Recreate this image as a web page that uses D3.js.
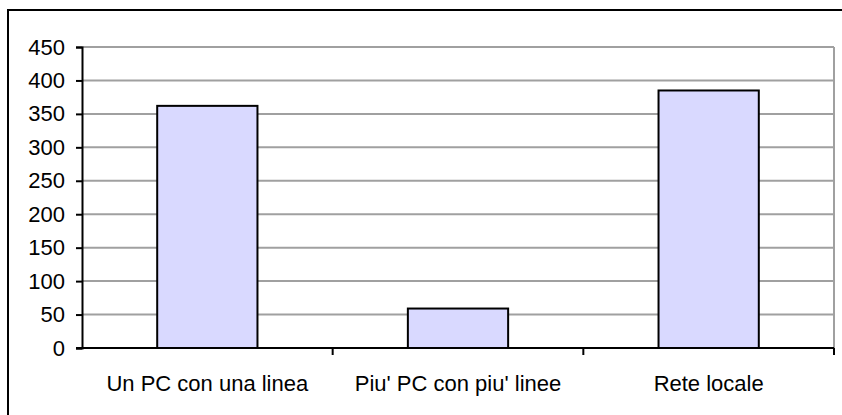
<!DOCTYPE html>
<html>
<head>
<meta charset="utf-8">
<script src="https://cdn.jsdelivr.net/npm/d3@7"></script>
<style>
  body { margin: 0; background: #fff; }
  svg { display: block; font-family: "Liberation Sans", Arial, sans-serif; }
</style>
</head>
<body>
<svg width="842" height="415"></svg>
<script>
// Chart data
const categories = ["Un PC con una linea", "Piu' PC con piu' linee", "Rete locale"];
const values = [362, 59, 385];
const yTicks = [0, 50, 100, 150, 200, 250, 300, 350, 400, 450];

const plot = { left: 82, right: 834, top: 47, bottom: 348 };
const fontSize = "22px";

const svg = d3.select("svg");

// Outer frame
svg.append("rect")
    .attr("x", 8)
    .attr("y", 10)
    .attr("width", 842)
    .attr("height", 420)
    .attr("fill", "none")
    .attr("stroke", "#000")
    .attr("stroke-width", 2);

// Scales
const x = d3.scaleBand()
    .domain(categories)
    .range([plot.left, plot.right])
    .padding(0);

const y = d3.scaleLinear()
    .domain([0, 450])
    .range([plot.bottom, plot.top]);

// Gridlines
svg.append("g")
    .selectAll("line")
    .data(yTicks.filter(d => d > 0))
    .enter()
    .append("line")
    .attr("x1", plot.left)
    .attr("x2", plot.right)
    .attr("y1", d => y(d))
    .attr("y2", d => y(d))
    .attr("stroke", "#a0a0a0")
    .attr("stroke-width", 2);

// Right border of plot area
svg.append("line")
    .attr("x1", plot.right)
    .attr("x2", plot.right)
    .attr("y1", plot.top)
    .attr("y2", plot.bottom)
    .attr("stroke", "#a0a0a0")
    .attr("stroke-width", 2);

// Bars
const barW = x.bandwidth() * 0.4;
svg.append("g")
    .selectAll("rect")
    .data(values)
    .enter()
    .append("rect")
    .attr("x", (d, i) => x(categories[i]) + (x.bandwidth() - barW) / 2)
    .attr("y", d => y(d))
    .attr("width", barW)
    .attr("height", d => y(0) - y(d))
    .attr("fill", "#d9d9ff")
    .attr("stroke", "#000")
    .attr("stroke-width", 2);

// Y axis
const yAxis = svg.append("g")
    .attr("transform", `translate(${plot.left},0)`)
    .call(d3.axisLeft(y).tickValues(yTicks).tickSize(6).tickPadding(11));
yAxis.select(".domain").attr("stroke", "#000").attr("stroke-width", 2);
yAxis.selectAll(".tick line").attr("stroke", "#000").attr("stroke-width", 2);
yAxis.selectAll(".tick text")
    .attr("fill", "#000")
    .style("font-size", fontSize)
    .style("font-family", "'Liberation Sans', Arial, sans-serif");

// X axis line
svg.append("line")
    .attr("x1", plot.left - 6)
    .attr("x2", plot.right)
    .attr("y1", y(0))
    .attr("y2", y(0))
    .attr("stroke", "#000")
    .attr("stroke-width", 2);

// X ticks at category boundaries
const bounds = categories.map(c => x(c) + x.bandwidth());
svg.append("g")
    .selectAll("line")
    .data(bounds)
    .enter()
    .append("line")
    .attr("x1", d => d)
    .attr("x2", d => d)
    .attr("y1", y(0))
    .attr("y2", y(0) + 7)
    .attr("stroke", "#000")
    .attr("stroke-width", 2);

// X labels
svg.append("g")
    .selectAll("text")
    .data(categories)
    .enter()
    .append("text")
    .attr("x", d => x(d) + x.bandwidth() / 2)
    .attr("y", 391)
    .attr("text-anchor", "middle")
    .style("font-size", fontSize)
    .attr("fill", "#000")
    .text(d => d);
</script>
</body>
</html>
